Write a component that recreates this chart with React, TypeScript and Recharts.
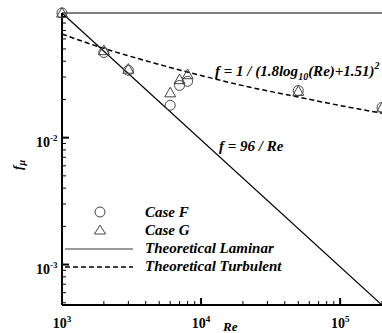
import React from 'react';
import { ComposedChart, Line, Scatter, XAxis, YAxis, ReferenceLine } from 'recharts';

// Case F (circles)
const caseFRe = [1000, 2000, 3000, 6000, 7000, 8000, 50000, 200000];
const caseFf = [0.096, 0.0469, 0.0339, 0.018, 0.0258, 0.0278, 0.0235, 0.0173];
// Case G (triangles)
const caseGRe = [1000, 2000, 3000, 6000, 7000, 8000, 50000, 200000];
const caseGf = [0.096, 0.0486, 0.0347, 0.0226, 0.0287, 0.0314, 0.0232, 0.0172];
// Theoretical laminar line (f = 96/Re) read at the ends
const laminarRe = [1000, 200000];
const laminarF = [0.096, 0.00048];
// Theoretical turbulent curve
const turbRe = [1000, 2000, 3000, 5000, 10000, 20000, 50000, 100000, 200000];
const turbF = [0.0655, 0.0505, 0.0442, 0.0377, 0.0309, 0.0257, 0.0209, 0.0179, 0.0156];

const xMajor = [1000, 10000, 100000];
const xTicks = [1000, 2000, 3000, 4000, 5000, 6000, 7000, 8000, 9000, 10000, 20000, 30000, 40000, 50000, 60000, 70000, 80000, 90000, 100000, 200000];
const yMajor = [0.001, 0.01];
const yTicks = [0.0005, 0.0006, 0.0007, 0.0008, 0.0009, 0.001, 0.002, 0.003, 0.004, 0.005, 0.006, 0.007, 0.008, 0.009, 0.01, 0.02, 0.03, 0.04, 0.05, 0.06, 0.07, 0.08, 0.09];

const caseF = caseFRe.map((re, i) => ({ re, f: caseFf[i] }));
const caseG = caseGRe.map((re, i) => ({ re, f: caseGf[i] }));
const laminar = laminarRe.map((re, i) => ({ re, f: laminarF[i] }));
const turb = turbRe.map((re, i) => ({ re, f: turbF[i] }));

const FONT = '"Liberation Serif", "DejaVu Serif", serif';

const isMajor = (v: number, arr: number[]) => arr.some((m) => Math.abs(m - v) / m < 1e-6);

const XTick = (props: any) => {
  const { x, y, payload } = props;
  const major = isMajor(payload.value, xMajor);
  const exp = Math.round(Math.log10(payload.value));
  const y0 = y - 1;
  return (
    <g>
      <line x1={x} y1={y0} x2={x} y2={y0 - (major ? 6 : 3)} stroke="#000" strokeWidth={major ? 2 : 1} />
      {major && (
        <text x={x} y={y0 + 24} textAnchor="middle" fontFamily={FONT} fontWeight="bold" fontSize={14} fill="#000">
          10<tspan dy={-6} fontSize={9}>{exp}</tspan>
        </text>
      )}
    </g>
  );
};

const YTick = (props: any) => {
  const { x, y, payload } = props;
  const major = isMajor(payload.value, yMajor);
  const exp = Math.round(Math.log10(payload.value));
  const x0 = x + 1;
  return (
    <g>
      <line x1={x0} y1={y} x2={x0 + (major ? 6 : 3)} y2={y} stroke="#000" strokeWidth={major ? 2 : 1} />
      {major && (
        <text x={x0 - 27} y={y + 9} textAnchor="start" fontFamily={FONT} fontWeight="bold" fontSize={14} fill="#000">
          10<tspan dy={-6} fontSize={9}>{exp}</tspan>
        </text>
      )}
    </g>
  );
};

const CircleShape = (props: any) => {
  const { cx, cy } = props;
  return <circle cx={cx} cy={cy} r={5} fill="none" stroke="#444" strokeWidth={1} />;
};

const TriShape = (props: any) => {
  const { cx, cy } = props;
  const s = 5.5;
  const pts = `${cx},${cy - s} ${cx - s},${cy + s * 0.75} ${cx + s},${cy + s * 0.75}`;
  return <polygon points={pts} fill="none" stroke="#444" strokeWidth={1} />;
};

const T = { fontFamily: FONT, fontWeight: 'bold', fontStyle: 'italic', fill: '#000' } as const;

export default function App() {
  return (
    <div style={{ position: 'fixed', left: 0, top: 0, width: 382, height: 333, background: '#fff' }}>
      <ComposedChart width={382} height={333} margin={{ top: 13, right: 0, bottom: 27, left: 61 }}>
        <XAxis
          dataKey="re"
          type="number"
          scale="log"
          domain={[1000, 200000]}
          ticks={xTicks}
          interval={0}
          tickSize={0}
          tickMargin={0}
          height={1}
          axisLine={{ stroke: '#000', strokeWidth: 2 }}
          tick={<XTick />}
        />
        <YAxis
          dataKey="f"
          type="number"
          scale="log"
          domain={[0.00048, 0.096]}
          ticks={yTicks}
          interval={0}
          tickSize={0}
          tickMargin={0}
          width={1}
          axisLine={{ stroke: '#000', strokeWidth: 2 }}
          tick={<YTick />}
        />
        <ReferenceLine y={0.096} stroke="#808080" strokeWidth={2} />
        <Line data={laminar} dataKey="f" stroke="#000" strokeWidth={1.2} dot={false} isAnimationActive={false} />
        <Line data={turb} dataKey="f" stroke="#000" strokeWidth={1.5} strokeDasharray="5 3" dot={false} type="monotone" isAnimationActive={false} />
        <Scatter data={caseF} dataKey="f" shape={<CircleShape />} isAnimationActive={false} />
        <Scatter data={caseG} dataKey="f" shape={<TriShape />} isAnimationActive={false} />

        <text x={215} y={76} {...T} fontSize={15}>
          f = 1 / (1.8log<tspan dy={4} fontSize={10}>10</tspan><tspan dy={-4}>(Re)+1.51)</tspan><tspan dy={-7} fontSize={10}>2</tspan>
        </text>
        <text x={219} y={151} {...T} fontSize={15}>
          f = 96 / Re
        </text>
        <text x={223} y={331} {...T} fontSize={13}>
          Re
        </text>
        <text transform="rotate(-90, 22, 165)" x={22} y={165} textAnchor="middle" {...T} fontSize={13}>
          f<tspan dy={3} fontSize={10}>μ</tspan>
        </text>

        <circle cx={100} cy={212} r={5} fill="none" stroke="#444" strokeWidth={1} />
        <polygon points="100,225 94.5,234 105.5,234" fill="none" stroke="#444" strokeWidth={1} />
        <line x1={65} y1={249} x2={133} y2={249} stroke="#777" strokeWidth={1.5} />
        <line x1={65} y1={267} x2={133} y2={267} stroke="#000" strokeWidth={1.5} strokeDasharray="5 3" />
        <text x={145} y={217} {...T} fontSize={15}>Case F</text>
        <text x={145} y={235} {...T} fontSize={15}>Case G</text>
        <text x={145} y={253} {...T} fontSize={15}>Theoretical Laminar</text>
        <text x={145} y={271} {...T} fontSize={15}>Theoretical Turbulent</text>
      </ComposedChart>
    </div>
  );
}
